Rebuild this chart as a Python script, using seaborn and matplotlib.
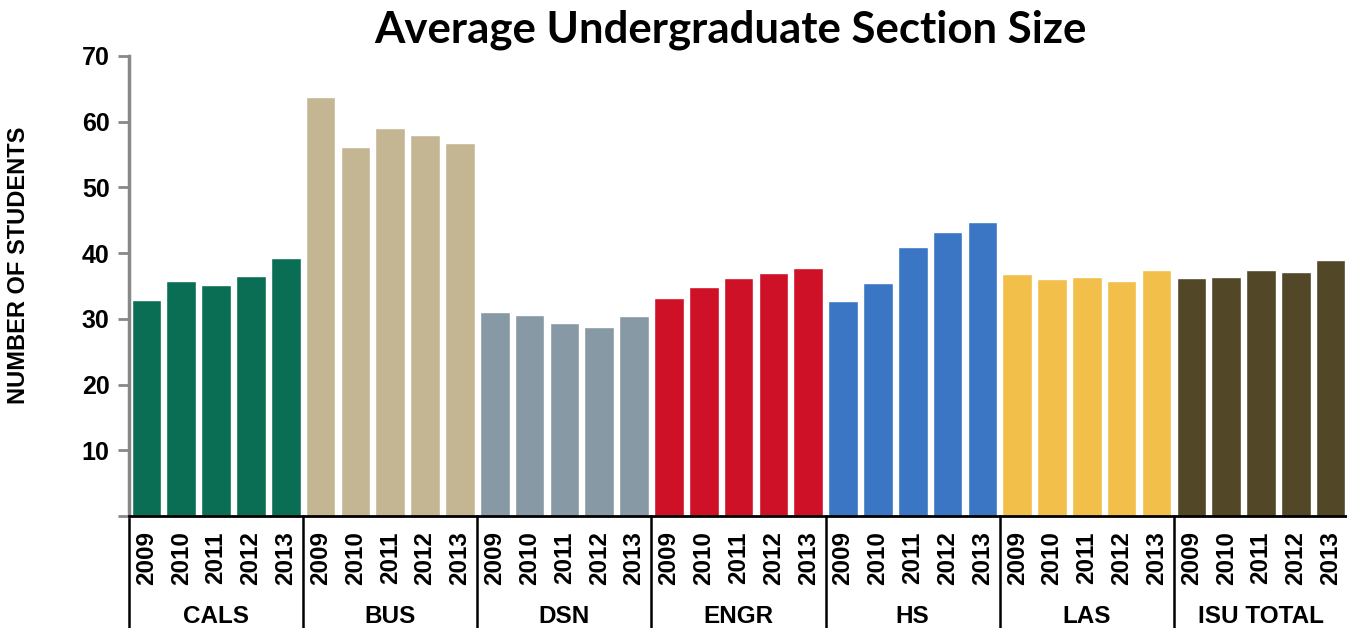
import pandas as pd
import numpy as np
import matplotlib
matplotlib.use("Agg")
import matplotlib.pyplot as plt
import matplotlib.transforms as mtransforms
import seaborn as sns

# data
groups = ["CALS", "BUS", "DSN", "ENGR", "HS", "LAS", "ISU TOTAL"]
years = ["2009", "2010", "2011", "2012", "2013"]
cals = [32.9, 35.7, 35.1, 36.6, 39.2]
bus = [63.8, 56.2, 59.1, 57.9, 56.7]
dsn = [31.0, 30.6, 29.4, 28.7, 30.4]
engr = [33.2, 34.9, 36.3, 37.0, 37.8]
hs = [32.8, 35.4, 40.9, 43.2, 44.8]
las = [36.9, 36.0, 36.4, 35.7, 37.5]
isu_total = [36.3, 36.4, 37.5, 37.2, 38.9]
group_colors = ["#0A6E55", "#C4B693", "#8799A4", "#CE1126", "#3B76C4", "#F1BF4A", "#524727"]

series = [cals, bus, dsn, engr, hs, las, isu_total]
rows = []
for g, vals in zip(groups, series):
    for y, v in zip(years, vals):
        rows.append({"group": g, "year": y, "key": g + " " + y, "value": v})
df = pd.DataFrame(rows)
palette = {r["key"]: group_colors[groups.index(r["group"])] for r in rows}

sns.set_style("white")
plt.rcParams["font.family"] = ["Liberation Sans", "DejaVu Sans"]
plt.rcParams["text.color"] = "black"
plt.rcParams["axes.labelcolor"] = "black"
plt.rcParams["xtick.color"] = "black"
plt.rcParams["ytick.color"] = "black"

fig = plt.figure(figsize=(13.47, 6.28), dpi=100)
ax = fig.add_axes([0.0958, 0.178, 0.905, 0.733])

sns.barplot(data=df, x="key", y="value", hue="key", palette=palette,
            legend=False, width=0.85, saturation=1, ax=ax)

ax.set_ylim(0, 70)
ax.set_xlim(-0.5, len(df) - 0.5)
ax.set_yticks(range(0, 71, 10))
ax.set_yticklabels([""] + [str(v) for v in range(10, 71, 10)],
                   fontsize=18, fontweight="bold")
ax.tick_params(axis="y", length=8, width=2, color="#888888", labelcolor="black",
               pad=6, left=True)
ax.set_xticks(range(len(df)))
ax.set_xticklabels(df["year"], rotation=90, fontsize=17.5, fontweight="bold")
ax.tick_params(axis="x", length=0, pad=11)
ax.set_xlabel("")
ax.set_ylabel("NUMBER OF STUDENTS", fontsize=17, fontweight="bold")
ax.yaxis.set_label_coords(-0.081, 0.546)

for s in ["top", "right"]:
    ax.spines[s].set_visible(False)
ax.spines["left"].set_color("#888888")
ax.spines["left"].set_linewidth(2.5)
ax.spines["bottom"].set_color("black")
ax.spines["bottom"].set_linewidth(2)

# group separators and labels below the axis
trans = mtransforms.blended_transform_factory(ax.transData, ax.transAxes)
for i in range(len(groups) + 1):
    x = i * len(years) - 0.5
    ax.plot([x, x], [0, -0.25], color="black", lw=1.8, transform=trans, clip_on=False)
for i, g in enumerate(groups):
    ax.text(i * len(years) + 2, -0.218, g, transform=trans, ha="center", va="center",
            fontsize=17.5, fontweight="bold")

fig.text(0.542, 0.952, "Average Undergraduate Section Size", ha="center", va="center",
         fontsize=31.5, fontweight="bold", family=["Lato", "DejaVu Sans"])

fig.savefig("out.png", dpi=100)
